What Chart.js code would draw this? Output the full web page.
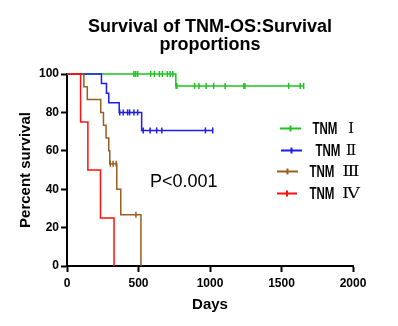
<!DOCTYPE html>
<html>
<head>
<meta charset="utf-8">
<script src="https://cdn.jsdelivr.net/npm/chart.js@4/dist/chart.umd.min.js"></script>
<style>
  html, body { margin: 0; padding: 0; background: #fff; }
  canvas { display: block; }
</style>
</head>
<body>
<canvas id="km" width="398" height="326"></canvas>
<script>
// Kaplan–Meier survival by TNM stage (overall survival, days)
const stageLabels = ['TNM', 'TNM', 'TNM', 'TNM'];
const stageNumerals = ['Ⅰ', 'Ⅱ', 'Ⅲ', 'Ⅳ'];

// TNM I: event days, survival (%) after each event, censored days, last follow-up
const tnm1EventDays = [761];
const tnm1Survival = [93.8];
const tnm1CensorDays = [468, 480, 494, 585, 611, 646, 667, 702, 721, 740,
                        763, 769, 892, 923, 973, 1026, 1106, 1237, 1244, 1550, 1631, 1655];
const tnm1LastDay = 1655;

// TNM II
const tnm2EventDays = [241, 276, 292, 365, 522];
const tnm2Survival = [95, 90, 85, 80, 70.6];
const tnm2CensorDays = [369, 393, 424, 438, 468, 494, 533, 581, 627, 663, 968, 1019];
const tnm2LastDay = 1019;

// TNM III
const tnm3EventDays = [118, 142, 236, 255, 273, 292, 299, 348, 376, 517];
const tnm3Survival = [93.3, 86.7, 80, 73.3, 66.7, 60, 53.3, 40, 26.7, 0];
const tnm3CensorDays = [303, 322, 344, 482];
const tnm3LastDay = 517;

// TNM IV
const tnm4EventDays = [95, 146, 234, 329];
const tnm4Survival = [75, 50, 25, 0];
const tnm4CensorDays = [];
const tnm4LastDay = 329;

const stageColors = ['#1fc41f', '#1c1cf2', '#9a5e22', '#ff1010'];

const xTickStep = 500;
const yTickStep = 20;

const FONT = "'Liberation Sans', Arial, Helvetica, sans-serif";

function curvePoints(days, surv, lastDay) {
  const pts = [{ x: 0, y: 100 }];
  days.forEach((d, i) => pts.push({ x: d, y: surv[i] }));
  const lastSurv = surv.length ? surv[surv.length - 1] : 100;
  const lastEvent = days.length ? days[days.length - 1] : 0;
  if (lastDay > lastEvent) pts.push({ x: lastDay, y: lastSurv });
  return pts;
}

function survivalAt(days, surv, t) {
  let s = 100;
  days.forEach((d, i) => { if (d <= t) s = surv[i]; });
  return s;
}

function censorPoints(days, surv, censors) {
  return censors.map(t => ({ x: t, y: survivalAt(days, surv, t) }));
}

const stages = [
  [tnm1EventDays, tnm1Survival, tnm1CensorDays, tnm1LastDay],
  [tnm2EventDays, tnm2Survival, tnm2CensorDays, tnm2LastDay],
  [tnm3EventDays, tnm3Survival, tnm3CensorDays, tnm3LastDay],
  [tnm4EventDays, tnm4Survival, tnm4CensorDays, tnm4LastDay]
];

const datasets = [];
stages.forEach(([days, surv, censors, last], i) => {
  const color = stageColors[i];
  // stage IV drawn on top, stage I at the back
  const base = 4 - i;
  datasets.push({
    label: stageLabels[i] + ' ' + stageNumerals[i],
    data: curvePoints(days, surv, last),
    showLine: true,
    stepped: 'before',
    borderColor: color,
    borderWidth: 1.5,
    pointRadius: 0,
    clip: false,
    order: base * 2
  });
  datasets.push({
    label: stageLabels[i] + ' ' + stageNumerals[i] + ' censored',
    data: censorPoints(days, surv, censors),
    showLine: false,
    pointStyle: 'line',
    rotation: 90,
    pointRadius: 3,
    pointBorderWidth: 1.5,
    pointBorderColor: color,
    borderColor: color,
    clip: false,
    order: base * 2 - 1
  });
});

// title, legend and p-value annotation
const annotations = {
  id: 'annotations',
  afterDraw(chart) {
    const ctx = chart.ctx;
    ctx.save();
    ctx.fillStyle = '#000';
    ctx.textAlign = 'center';
    ctx.textBaseline = 'alphabetic';
    ctx.font = 'bold 18px ' + FONT;
    ctx.fillText('Survival of TNM-OS:Survival', 210, 32);
    ctx.fillText('proportions', 210, 49.5);

    ctx.textAlign = 'left';
    ctx.font = '18px ' + FONT;
    ctx.fillText('P<0.001', 150, 186.5);

    const rows = [
      { x1: 280, x2: 301, y: 128.5, tx: 312.5 },
      { x1: 281, x2: 302, y: 150.5, tx: 315.5 },
      { x1: 277, x2: 298, y: 171.5, tx: 309.5 },
      { x1: 277, x2: 297, y: 193.5, tx: 309.5 }
    ];
    rows.forEach((r, i) => {
      ctx.strokeStyle = stageColors[i];
      ctx.lineWidth = 2;
      ctx.beginPath();
      ctx.moveTo(r.x1, r.y);
      ctx.lineTo(r.x2, r.y);
      const mid = (r.x1 + r.x2) / 2;
      ctx.moveTo(mid, r.y - 3);
      ctx.lineTo(mid, r.y + 3);
      ctx.stroke();

      ctx.fillStyle = '#000';
      ctx.textBaseline = 'middle';
      ctx.save();
      ctx.translate(r.tx, r.y + 1);
      ctx.scale(0.72, 1);
      ctx.textAlign = 'left';
      ctx.font = 'bold 16px ' + FONT;
      ctx.fillText(stageLabels[i], 0, 0);
      ctx.restore();

      ctx.save();
      ctx.translate(351, r.y + 1);
      ctx.scale(i >= 2 ? 1.2 : 1.05, 1);
      ctx.textAlign = 'center';
      ctx.font = '15px "DejaVu Serif", serif';
      ctx.fillText(stageNumerals[i], 0, 0);
      ctx.restore();
    });
    ctx.restore();
  }
};

new Chart(document.getElementById('km'), {
  type: 'scatter',
  data: { datasets },
  options: {
    responsive: false,
    animation: false,
    devicePixelRatio: 1,
    layout: { padding: { top: 74, right: 45, left: 0, bottom: 0 } },
    plugins: {
      legend: { display: false },
      tooltip: { enabled: false },
      title: { display: false }
    },
    scales: {
      x: {
        type: 'linear',
        min: 0,
        max: 2000,
        ticks: {
          stepSize: xTickStep,
          color: '#000',
          font: { family: FONT, size: 12, weight: 'bold' },
          padding: 4,
          maxRotation: 0,
          callback: (v) => String(v)
        },
        grid: {
          drawOnChartArea: false,
          drawTicks: true,
          tickLength: 6,
          tickWidth: 2,
          tickColor: '#000'
        },
        border: { display: true, color: '#000', width: 2 },
        title: {
          display: true,
          text: 'Days',
          color: '#000',
          font: { family: FONT, size: 15, weight: 'bold' },
          padding: { top: 0, bottom: 12 }
        },
        afterFit(scale) { scale.height = 60; }
      },
      y: {
        type: 'linear',
        min: 0,
        max: 100,
        ticks: {
          stepSize: yTickStep,
          color: '#000',
          font: { family: FONT, size: 12, weight: 'bold' },
          padding: 2,
          callback: (v) => String(v)
        },
        grid: {
          drawOnChartArea: false,
          drawTicks: true,
          tickLength: 6,
          tickWidth: 2,
          tickColor: '#000'
        },
        border: { display: true, color: '#000', width: 2 },
        title: {
          display: true,
          text: 'Percent survival',
          color: '#000',
          font: { family: FONT, size: 15, weight: 'bold' },
          padding: { top: 17, bottom: 0 }
        },
        afterFit(scale) { scale.width = 67; }
      }
    }
  },
  plugins: [annotations]
});
</script>
</body>
</html>
